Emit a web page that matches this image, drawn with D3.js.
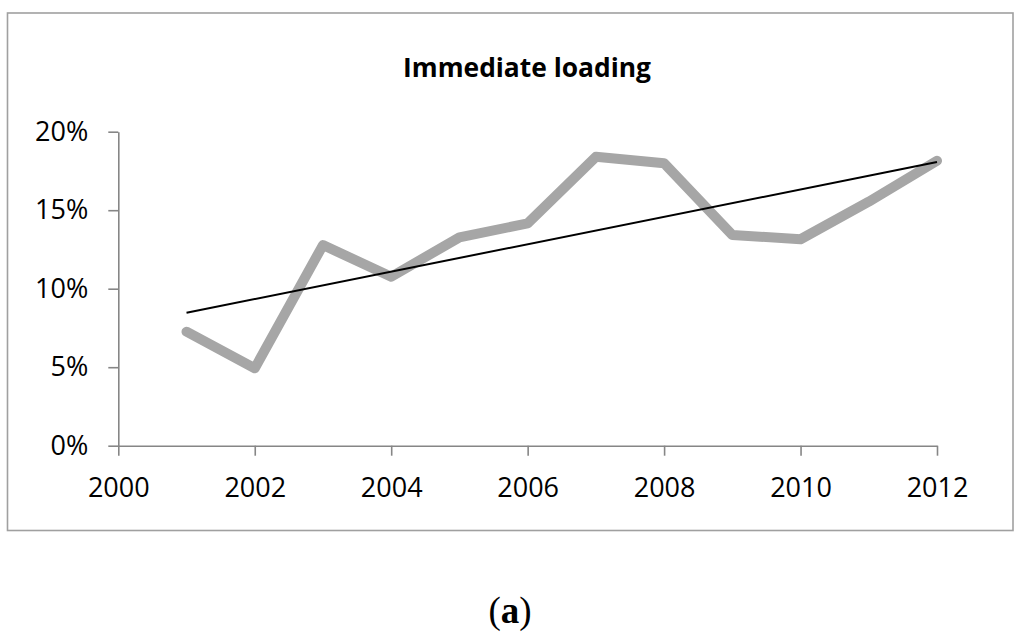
<!DOCTYPE html>
<html>
<head>
<meta charset="utf-8">
<script src="https://cdn.jsdelivr.net/npm/d3@7"></script>
<style>
  body { margin: 0; background: #fff; }
  svg { display: block; }
</style>
</head>
<body>
<div id="chart"></div>
<script>
// values
const years = [2001, 2002, 2003, 2004, 2005, 2006, 2007, 2008, 2009, 2010, 2011, 2012];
const shares = [0.0726, 0.0493, 0.1278, 0.1076, 0.1327, 0.1416, 0.184, 0.1799, 0.1342, 0.1315, 0.1554, 0.1815];
const trendYears = [2001, 2012];
const trendShares = [0.0847, 0.1807];
const xTicks = [2000, 2002, 2004, 2006, 2008, 2010, 2012];
const yTicks = [0, 0.05, 0.10, 0.15, 0.20];

const svgWidth = 1024, svgHeight = 641;
const font = '"Open Sans", "Noto Sans", sans-serif';

const svg = d3.select('#chart')
  .append('svg')
  .attr('width', svgWidth)
  .attr('height', svgHeight);

svg.append('rect')
  .attr('width', svgWidth).attr('height', svgHeight)
  .attr('fill', '#fff');

// outer chart frame
svg.append('rect')
  .attr('x', 7.5).attr('y', 13)
  .attr('width', 1005.5).attr('height', 517.5)
  .attr('fill', 'none')
  .attr('stroke', '#a0a0a0')
  .attr('stroke-width', 1.6);

const x = d3.scaleLinear().domain([2000, 2012]).range([118.3, 937]);
const y = d3.scaleLinear().domain([0, 0.20]).range([445.7, 131.7]);

const xAxis = svg.append('g')
  .attr('transform', `translate(0,${y(0)})`)
  .call(d3.axisBottom(x).tickValues(xTicks).tickFormat(d3.format('d'))
    .tickSize(10).tickPadding(22).tickSizeOuter(0));

const yAxis = svg.append('g')
  .attr('transform', `translate(${x(2000)},0)`)
  .call(d3.axisLeft(y).tickValues(yTicks).tickFormat(d3.format('.0%'))
    .tickSize(10).tickPadding(20).tickSizeOuter(0));

[xAxis, yAxis].forEach(g => {
  g.select('.domain').attr('stroke', '#868686').attr('stroke-width', 1.6);
  g.selectAll('.tick line').attr('stroke', '#868686').attr('stroke-width', 1.6);
  g.selectAll('.tick text')
    .attr('fill', '#000')
    .style('font-family', font)
    .style('font-size', '27px');
});

// data line
const line = d3.line().x(d => x(d[0])).y(d => y(d[1]));
svg.append('path')
  .datum(d3.zip(years, shares))
  .attr('d', line)
  .attr('fill', 'none')
  .attr('stroke', '#a6a6a6')
  .attr('stroke-width', 10)
  .attr('stroke-linejoin', 'round')
  .attr('stroke-linecap', 'round');

// linear trend line
svg.append('path')
  .datum(d3.zip(trendYears, trendShares))
  .attr('d', line)
  .attr('fill', 'none')
  .attr('stroke', '#000')
  .attr('stroke-width', 2);

// title, fitted to the width seen in the picture
const title = svg.append('text')
  .attr('x', 527).attr('y', 77)
  .attr('text-anchor', 'middle')
  .style('font-family', font)
  .style('font-weight', 'bold')
  .style('font-size', '24px')
  .text('Immediate loading');
const tl = title.node().getComputedTextLength();
title.style('font-size', (24 * 248 / tl) + 'px');

// caption
const cap = svg.append('text')
  .attr('x', 510).attr('y', 623)
  .attr('text-anchor', 'middle')
  .style('font-family', '"Liberation Serif", "DejaVu Serif", serif')
  .style('font-size', '37px');
cap.append('tspan').text('(');
cap.append('tspan').style('font-weight', 'bold').text('a');
cap.append('tspan').text(')');
</script>
</body>
</html>
